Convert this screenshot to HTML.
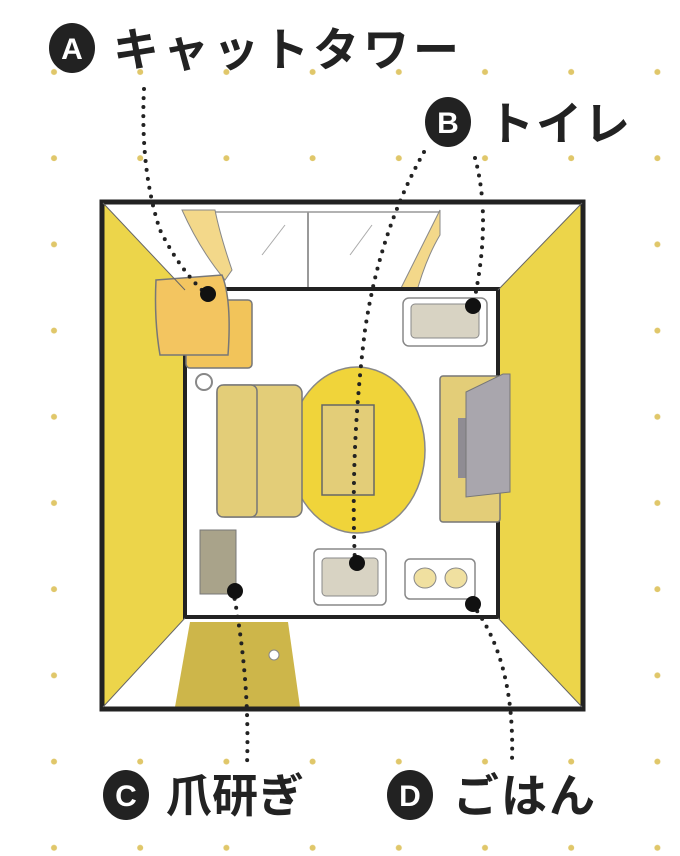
<!DOCTYPE html>
<html><head><meta charset="utf-8">
<style>
html,body{margin:0;padding:0;background:#fff;}
svg{display:block;}
text{font-family:"Liberation Sans","Noto Sans CJK JP",sans-serif;}
</style></head>
<body>
<svg width="680" height="856" viewBox="0 0 680 856" xmlns="http://www.w3.org/2000/svg">
<defs>
<pattern id="dots" x="11" y="29" width="86.2" height="86.2" patternUnits="userSpaceOnUse">
<circle cx="43" cy="43" r="3" fill="#e0c76a"/>
</pattern>
</defs>
<rect width="680" height="856" fill="url(#dots)"/>

<rect x="102" y="202" width="481" height="507" fill="#fff"/>
<polygon points="103,203 185,290 185,618 103,707" fill="#ecd54a"/>
<polygon points="582,203 498,290 498,618 582,707" fill="#ecd54a"/>
<line x1="185" y1="212" x2="440" y2="212" stroke="#999" stroke-width="1.5"/>
<line x1="308" y1="212" x2="308" y2="288" stroke="#999" stroke-width="2"/>
<line x1="262" y1="255" x2="285" y2="225" stroke="#aaa" stroke-width="1"/>
<line x1="350" y1="255" x2="372" y2="225" stroke="#aaa" stroke-width="1"/>
<path d="M182,210 Q200,250 225,280 L232,270 Q220,235 215,210 Z" fill="#f3d88a" stroke="#888" stroke-width="1"/>
<path d="M440,210 Q420,250 400,290 L415,298 Q425,260 440,235 Z" fill="#f3d88a" stroke="#888" stroke-width="1"/>
<rect x="185" y="289" width="313" height="328" fill="#fff" stroke="#222" stroke-width="4"/>
<polygon points="190,622 288,622 300,707 175,707" fill="#cdb64a"/>
<circle cx="274" cy="655" r="5" fill="#fff" stroke="#888"/>
<circle cx="204" cy="382" r="8" fill="#fff" stroke="#888" stroke-width="2"/>
<rect x="186" y="300" width="66" height="68" rx="4" fill="#f2c45a" stroke="#777" stroke-width="1.5"/>
<path d="M156,280 L222,275 Q232,300 228,355 L160,355 Q154,320 156,280 Z" fill="#f3c560" stroke="#777" stroke-width="1.5"/>
<rect x="403" y="298" width="84" height="48" rx="6" fill="#fff" stroke="#888" stroke-width="1.5"/>
<rect x="411" y="304" width="68" height="34" rx="4" fill="#d8d3c3" stroke="#888"/>
<ellipse cx="357" cy="450" rx="68" ry="83" fill="#f0d43a" stroke="#888" stroke-width="1.5"/>
<rect x="217" y="385" width="85" height="132" rx="8" fill="#e3cd78" stroke="#777" stroke-width="1.5"/>
<rect x="217" y="385" width="40" height="132" rx="6" fill="#e3cd78" stroke="#777" stroke-width="1.5"/>
<rect x="322" y="405" width="52" height="90" fill="#e3cd78" stroke="#666" stroke-width="1.5"/>
<rect x="440" y="376" width="60" height="146" rx="3" fill="#e3cd78" stroke="#777" stroke-width="1.5"/>
<rect x="458" y="418" width="10" height="60" fill="#8f8c93"/>
<polygon points="466,392 503,374 510,374 510,492 466,497" fill="#a9a6ad" stroke="#777" stroke-width="1"/>
<rect x="200" y="530" width="36" height="64" fill="#a9a38a" stroke="#777"/>
<rect x="314" y="549" width="72" height="56" rx="5" fill="#fff" stroke="#888" stroke-width="1.5"/>
<rect x="322" y="558" width="56" height="38" rx="4" fill="#d8d3c3" stroke="#888"/>
<rect x="405" y="559" width="70" height="40" rx="5" fill="#fff" stroke="#888" stroke-width="1.5"/>
<ellipse cx="425" cy="578" rx="11" ry="10" fill="#f0e0a0" stroke="#888"/>
<ellipse cx="456" cy="578" rx="11" ry="10" fill="#f0e0a0" stroke="#888"/>
<rect x="102" y="202" width="481" height="507" fill="none" stroke="#222" stroke-width="5"/>
<line x1="103" y1="203" x2="185" y2="290" stroke="#666" stroke-width="1"/>
<line x1="582" y1="203" x2="498" y2="290" stroke="#666" stroke-width="1"/>
<line x1="103" y1="707" x2="185" y2="618" stroke="#666" stroke-width="1"/>
<line x1="582" y1="707" x2="498" y2="618" stroke="#666" stroke-width="1"/>

<g fill="none" stroke="#222" stroke-width="4" stroke-linecap="round" stroke-dasharray="0 9">
<path d="M144,89 Q140,170 160,230 Q180,270 205,293"/>
<path d="M424,152 Q380,230 365,330 Q350,450 355,563"/>
<path d="M475,158 Q492,220 473,306"/>
<path d="M233,590 Q250,680 247,765"/>
<path d="M472,604 Q515,660 512,760"/>
</g>
<g fill="#111">
<circle cx="208" cy="294" r="8"/>
<circle cx="473" cy="306" r="8"/>
<circle cx="357" cy="563" r="8"/>
<circle cx="235" cy="591" r="8"/>
<circle cx="473" cy="604" r="8"/>
</g>

<g font-weight="bold">
<ellipse cx="72" cy="48" rx="23" ry="25" fill="#222"/>
<text x="72" y="59" font-size="30" fill="#fff" text-anchor="middle">A</text>
<text x="113" y="66" font-size="46" fill="#222" letter-spacing="4">キャットタワー</text>
<ellipse cx="448" cy="122" rx="23" ry="25" fill="#222"/>
<text x="448" y="133" font-size="30" fill="#fff" text-anchor="middle">B</text>
<text x="488" y="140" font-size="46" fill="#222" letter-spacing="2">トイレ</text>
<ellipse cx="126" cy="795" rx="23" ry="25" fill="#222"/>
<text x="126" y="806" font-size="30" fill="#fff" text-anchor="middle">C</text>
<text x="166" y="812" font-size="46" fill="#222">爪研ぎ</text>
<ellipse cx="410" cy="795" rx="23" ry="25" fill="#222"/>
<text x="410" y="806" font-size="30" fill="#fff" text-anchor="middle">D</text>
<text x="453" y="812" font-size="46" fill="#222" letter-spacing="2">ごはん</text>
</g>
</svg>
</body></html>
